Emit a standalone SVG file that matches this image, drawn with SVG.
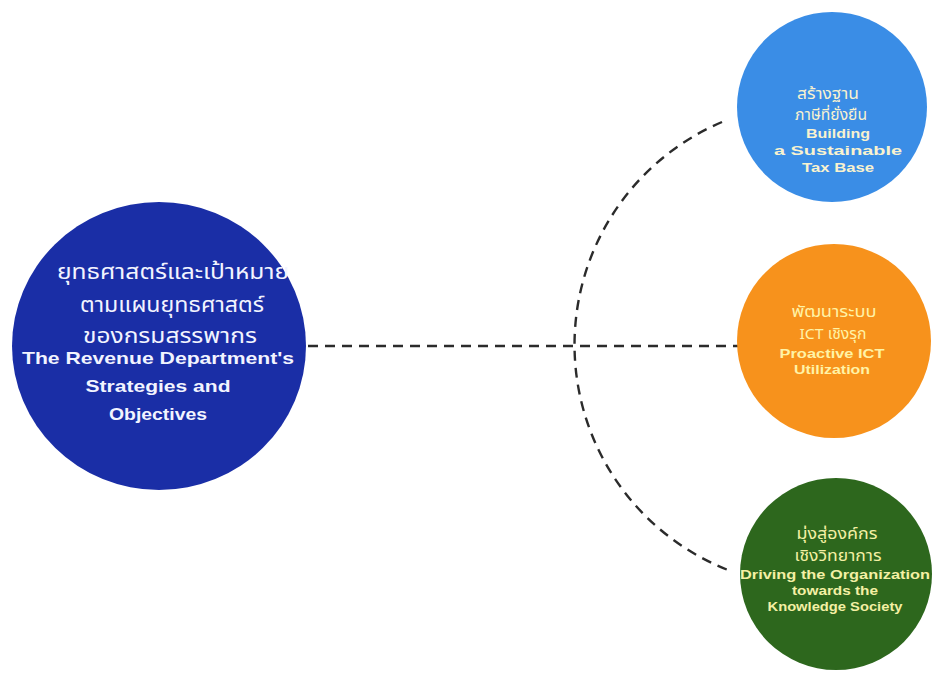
<svg xmlns="http://www.w3.org/2000/svg" width="932" height="676" viewBox="0 0 932 676">
<style>
.conn{fill:none;stroke:#2b2b2b;stroke-width:2.4;stroke-dasharray:10 7}
.th{font-family:"Noto Sans","Noto Sans Thai","DejaVu Sans",sans-serif;text-anchor:middle}
.en{font-family:"Liberation Sans",Arial,sans-serif;font-weight:bold;text-anchor:middle}
.main{fill:#f2f4ff}
.blue{fill:#f8f2cf}
.orng{fill:#fff3a6}
.grn{fill:#f4f0a4}
</style>
<rect width="932" height="676" fill="#ffffff"/>
<g id="connectors">
<line class="conn" x1="308" y1="346" x2="740" y2="346"/>
<path class="conn" d="M 722 122 A 242 242 0 0 0 728 570"/>
</g>
<g id="node-main">
<ellipse cx="159" cy="346" rx="147" ry="144" fill="#1a2ea6"/>
<text class="th main" x="173" y="279" font-size="22" textLength="232" lengthAdjust="spacingAndGlyphs">ยุทธศาสตร์และเป้าหมาย</text>
<text class="th main" x="172" y="312" font-size="22" textLength="184" lengthAdjust="spacingAndGlyphs">ตามแผนยุทธศาสตร์</text>
<text class="th main" x="170" y="343" font-size="22" textLength="174" lengthAdjust="spacingAndGlyphs">ของกรมสรรพากร</text>
<text class="en main" x="158" y="364" font-size="17" textLength="272" lengthAdjust="spacingAndGlyphs">The Revenue Department's</text>
<text class="en main" x="158" y="392" font-size="17" textLength="145" lengthAdjust="spacingAndGlyphs">Strategies and</text>
<text class="en main" x="158" y="420" font-size="17" textLength="98" lengthAdjust="spacingAndGlyphs">Objectives</text>
</g>
<g id="node-tax">
<circle cx="832" cy="107" r="95" fill="#3a8de6"/>
<text class="th blue" x="828" y="99" font-size="15" textLength="62" lengthAdjust="spacingAndGlyphs">สร้างฐาน</text>
<text class="th blue" x="831" y="120" font-size="15" textLength="72" lengthAdjust="spacingAndGlyphs">ภาษีที่ยั่งยืน</text>
<text class="en blue" x="838" y="138" font-size="12.5" textLength="64" lengthAdjust="spacingAndGlyphs">Building</text>
<text class="en blue" x="838" y="155" font-size="12.5" textLength="128" lengthAdjust="spacingAndGlyphs">a Sustainable</text>
<text class="en blue" x="838" y="172" font-size="12.5" textLength="72" lengthAdjust="spacingAndGlyphs">Tax Base</text>
</g>
<g id="node-ict">
<circle cx="834" cy="341" r="97" fill="#f7921c"/>
<text class="th orng" x="834" y="317" font-size="15" textLength="85" lengthAdjust="spacingAndGlyphs">พัฒนาระบบ</text>
<text class="th orng" x="833" y="339" font-size="15" textLength="67" lengthAdjust="spacingAndGlyphs">ICT เชิงรุก</text>
<text class="en orng" x="832" y="358" font-size="12.5" textLength="105" lengthAdjust="spacingAndGlyphs">Proactive ICT</text>
<text class="en orng" x="832" y="374" font-size="12.5" textLength="76" lengthAdjust="spacingAndGlyphs">Utilization</text>
</g>
<g id="node-knowledge">
<circle cx="836" cy="574" r="96" fill="#2d671d"/>
<text class="th grn" x="837" y="539" font-size="15" textLength="81" lengthAdjust="spacingAndGlyphs">มุ่งสู่องค์กร</text>
<text class="th grn" x="838" y="561" font-size="15" textLength="87" lengthAdjust="spacingAndGlyphs">เชิงวิทยาการ</text>
<text class="en grn" x="835" y="579" font-size="12.5" textLength="190" lengthAdjust="spacingAndGlyphs">Driving the Organization</text>
<text class="en grn" x="835" y="595" font-size="12.5" textLength="86" lengthAdjust="spacingAndGlyphs">towards the</text>
<text class="en grn" x="835" y="611" font-size="12.5" textLength="135" lengthAdjust="spacingAndGlyphs">Knowledge Society</text>
</g>
</svg>
